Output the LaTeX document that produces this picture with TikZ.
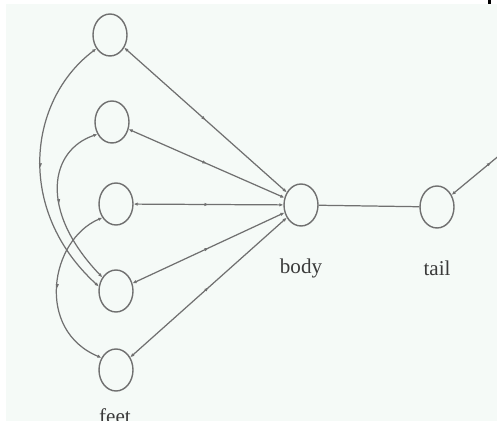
\documentclass[tikz,border=0pt]{standalone}
\usepackage{fontspec}
\setmainfont{Liberation Serif}
\usepackage{xcolor}
\usepackage{tikz}
\usetikzlibrary{arrows.meta,shapes.geometric,decorations.markings}
\definecolor{partInk}{HTML}{707070}
\definecolor{partPaper}{HTML}{F5FAF7}
\definecolor{partLabel}{HTML}{3A3A3A}
\tikzset{
  part/.style={
    ellipse,
    draw=partInk,
    line width=0.8pt,
    minimum width=0.68cm,
    minimum height=0.84cm,
    inner sep=0pt
  },
  partname/.style={
    text=partLabel,
    font=\fontsize{12}{14}\selectfont
  },
  link/.style={
    draw=partInk,
    line width=0.7pt,
    {Latex[length=0.8mm,width=0.7mm]}-{Latex[length=0.8mm,width=0.7mm]},
    postaction={decorate},
    decoration={
      markings,
      mark=at position 0.5 with {\arrow{Latex[length=0.8mm,width=0.7mm]}}
    }
  },
  plainlink/.style={
    draw=partInk,
    line width=0.7pt
  }
}

\begin{document}
\begin{tikzpicture}[x=0.02cm,y=-0.02cm]
  \useasboundingbox (0,0) rectangle (497,421);
  \fill[partPaper] (6,4) rectangle (497,421);
  \fill[black] (488,0) rectangle (491,4);
  % parts
  \node[part] (leg1) at (110,35) {};
  \node[part] (leg2) at (112,122) {};
  \node[part] (leg3) at (116,204) {};
  \node[part] (leg4) at (116,291) {};
  \node[part] (leg5) at (116,370) {};
  \node[part] (body) at (301,205) {};
  \node[part] (tail) at (437,207) {};
  \coordinate (tailEnd) at (530,130);
  % labels
  \node[partname] (bodyName) at (301,268) {body};
  \node[partname] (tailName) at (437,268) {tail};
  \node[partname] (feetName) at (115,416) {feet};
  % spokes to the body
  \foreach \leg in {leg1,leg2,leg3,leg4,leg5}
    \draw[link] (\leg) -- (body);
  \draw[plainlink] (body) -- (tail);
  \draw[link] (tail) -- (tailEnd);
  % curved links on the left
  \draw[link] (leg1.225) .. controls (28,100) and (15,210) .. (leg4.165);
  \draw[link] (leg2.220) .. controls (50,150) and (38,210) .. (leg4.135);
  \draw[link] (leg3.225) .. controls (50,240) and (35,330) .. (leg5.140);
\end{tikzpicture}
\end{document}
